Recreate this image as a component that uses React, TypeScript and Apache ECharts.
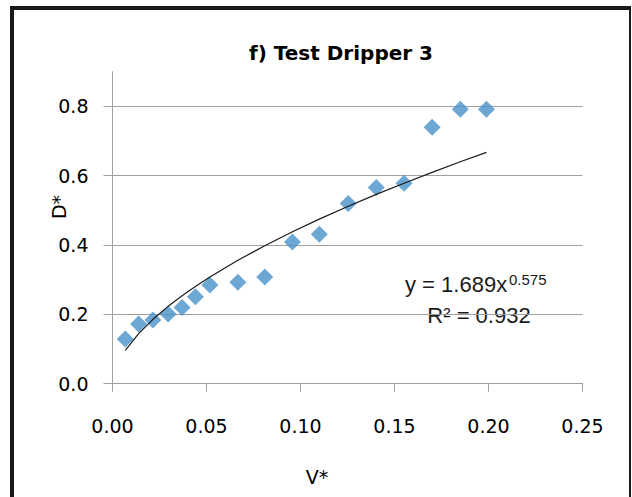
import React, { useEffect, useRef } from "react";
import * as echarts from "echarts";

// Measured data (V*, D*)
const vStar = [0.0068, 0.0139, 0.0215, 0.0296, 0.037, 0.0441, 0.0518, 0.0667, 0.081, 0.0957, 0.11, 0.1254, 0.1403, 0.1551, 0.17, 0.185, 0.1989];
const dStar = [0.129, 0.172, 0.184, 0.201, 0.22, 0.251, 0.285, 0.293, 0.308, 0.409, 0.431, 0.52, 0.566, 0.578, 0.74, 0.792, 0.792];

// Power trendline shown on the chart: y = 1.689 x^0.575
const FIT_A = 1.689;
const FIT_B = 0.575;
const FIT_R2 = 0.932;

const xTicks = { min: 0, max: 0.25, interval: 0.05 };
const yTicks = { min: 0, max: 0.9, interval: 0.2 };

const TITLE = "f) Test Dripper 3";
const X_NAME = "V*";
const Y_NAME = "D*";

export default function App() {
  const ref = useRef<HTMLDivElement>(null);
  useEffect(() => {
    if (!ref.current) return;
    const chart = echarts.init(ref.current, undefined, { renderer: "svg" });
    const points = vStar.map((v, i) => [v, dStar[i]]);
    const trend = vStar.map((v) => [v, FIT_A * Math.pow(v, FIT_B)]);
    const tickFont = { fontFamily: "DejaVu Sans", fontSize: 19, color: "#000" };
    chart.setOption({
      animation: false,
      backgroundColor: "#fff",
      grid: { left: 112.5, right: 49.5, top: 71.7, bottom: 113.3, containLabel: false },
      xAxis: {
        type: "value",
        min: xTicks.min,
        max: xTicks.max,
        interval: xTicks.interval,
        axisLine: { show: true, lineStyle: { color: "#a0a0a0", width: 1 } },
        axisTick: { show: true, length: 8, lineStyle: { color: "#a0a0a0" } },
        splitLine: { show: false },
        axisLabel: { ...tickFont, margin: 33, formatter: (v: number) => v.toFixed(2) },
      },
      yAxis: {
        type: "value",
        min: yTicks.min,
        max: yTicks.max,
        interval: yTicks.interval,
        axisLine: { show: true, lineStyle: { color: "#a0a0a0", width: 1 } },
        axisTick: { show: true, length: 9, lineStyle: { color: "#a0a0a0" } },
        splitLine: { show: true, showMaxLine: false, lineStyle: { color: "#a0a0a0", width: 1 } },
        axisLabel: {
          ...tickFont,
          margin: 24,
          showMaxLabel: false,
          formatter: (v: number) => (Math.abs(v - 0.9) < 1e-9 ? "" : v.toFixed(1)),
        },
      },
      series: [
        {
          type: "line",
          data: trend,
          showSymbol: false,
          symbol: "none",
          lineStyle: { color: "#1a1a1a", width: 1.2 },
          z: 3,
        },
        {
          type: "scatter",
          data: points,
          symbol: "diamond",
          symbolSize: 17,
          itemStyle: { color: "#4892cb" },
          z: 2,
        },
      ],
      graphic: [
        { type: "rect", shape: { x: 10, y: 6, width: 4, height: 500 }, style: { fill: "#1a1a1a" } },
        { type: "rect", shape: { x: 10, y: 6, width: 621, height: 4 }, style: { fill: "#1a1a1a" } },
        { type: "rect", shape: { x: 629, y: 6, width: 2, height: 500 }, style: { fill: "#1a1a1a" } },
        {
          type: "text",
          x: 341,
          y: 53,
          style: { text: TITLE, font: "bold 20px 'DejaVu Sans'", fill: "#000", align: "center", verticalAlign: "middle" },
        },
        {
          type: "text",
          x: 317,
          y: 477,
          style: { text: X_NAME, font: "19px 'DejaVu Sans'", fill: "#000", align: "center", verticalAlign: "middle" },
        },
        {
          type: "text",
          x: 59,
          y: 207,
          rotation: Math.PI / 2,
          style: { text: Y_NAME, font: "19px 'DejaVu Sans'", fill: "#000", align: "center", verticalAlign: "middle" },
        },
        {
          type: "text",
          x: 405,
          y: 284,
          style: { text: "y = " + FIT_A.toFixed(3) + "x", font: "22px 'Liberation Sans'", fill: "#1a1a1a", align: "left", verticalAlign: "middle" },
        },
        {
          type: "text",
          x: 509,
          y: 279,
          style: { text: FIT_B.toFixed(3), font: "15px 'Liberation Sans'", fill: "#1a1a1a", align: "left", verticalAlign: "middle" },
        },
        {
          type: "text",
          x: 479,
          y: 315,
          style: { text: "R\u00b2 = " + FIT_R2.toFixed(3), font: "22px 'Liberation Sans'", fill: "#1a1a1a", align: "center", verticalAlign: "middle" },
        },
      ],
    });
    return () => chart.dispose();
  }, []);
  return <div ref={ref} style={{ position: "fixed", left: 0, top: 0, width: 632, height: 497 }} />;
}
